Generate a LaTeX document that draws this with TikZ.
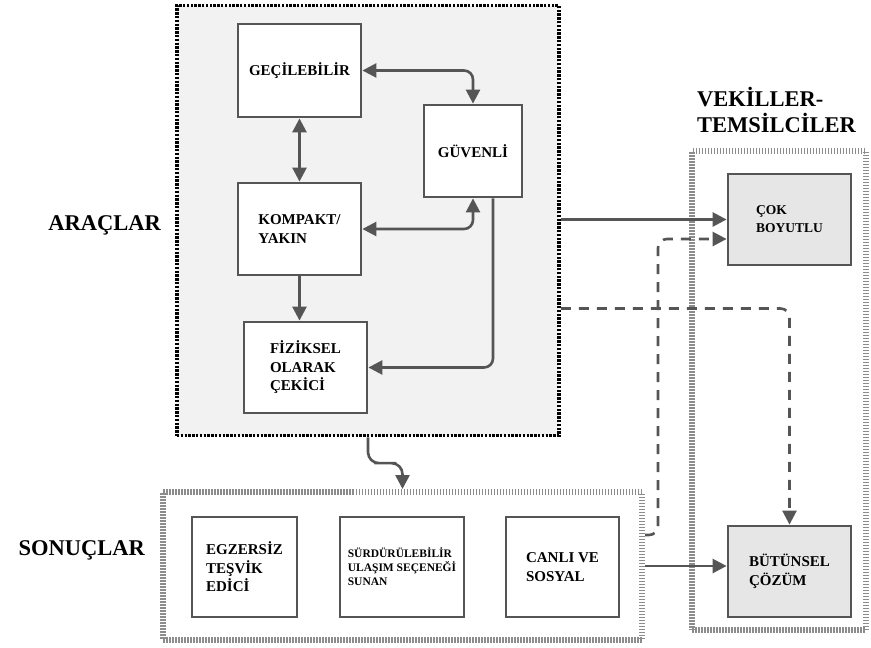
\documentclass[tikz,border=0pt]{standalone}
\usepackage{fontspec}
\setmainfont{Liberation Serif}
\usepackage{tikz}
\usepackage{xcolor}
\usetikzlibrary{arrows.meta, positioning, calc}

\definecolor{linegray}{HTML}{555555}
\definecolor{panelgray}{HTML}{F2F2F2}
\definecolor{proxygray}{HTML}{E6E6E6}
\definecolor{hashgray}{HTML}{8C8C8C}

\begin{document}
\begin{tikzpicture}[
    x=1pt, y=-1pt,
    >={Triangle[length=14pt,width=14pt]},
    arr/.style={->, draw=linegray, line width=2.6pt, rounded corners=9pt},
    darr/.style={arr, dash pattern=on 10pt off 8pt},
    item/.style={draw=linegray, line width=2.8pt, fill=white, rectangle, align=left,
        font=\bfseries\fontsize{15}{18.5}\selectfont, inner sep=2pt},
    proxy/.style={item, fill=proxygray},
    dotbox/.style={draw=black, line width=3.6pt, dash pattern=on 2.4pt off 1.4pt,
        fill=panelgray, rectangle, inner sep=0pt},
    hashbox/.style={draw=hashgray, line width=6pt, dash pattern=on 1.5pt off 1.5pt,
        fill=white, rectangle, inner sep=0pt},
    title/.style={font=\bfseries\fontsize{22.5}{26}\selectfont, align=left, inner sep=0pt}
]
\useasboundingbox (0,0) rectangle (871,648);

% Groups
\node[dotbox, minimum width=382pt, minimum height=430pt] (araclarbox) at (368,220.5) {};
\node[hashbox, minimum width=174pt, minimum height=479pt] (vekillerbox) at (779,390.5) {};
\node[hashbox, minimum width=479pt, minimum height=148pt] (sonuclarbox) at (402.5,566) {};

% Titles
\node[title, anchor=east] (araclar) at (161,225) {ARAÇLAR};
\node[title, anchor=east] (sonuclar) at (145,550) {SONUÇLAR};
\node[title, anchor=west] (vekiller) at (697,110) {VEKİLLER-\\TEMSİLCİLER};

% Tools
\node[item, minimum width=123pt, minimum height=93pt] (gecilebilir) at (299.5,70.5) {GEÇİLEBİLİR};
\node[item, minimum width=98pt, minimum height=92pt] (guvenli) at (473,151) {GÜVENLİ};
\node[item, minimum width=123pt, minimum height=92pt] (kompakt) at (299.5,229) {KOMPAKT/\\YAKIN};
\node[item, minimum width=123pt, minimum height=91pt] (fiziksel) at (305.5,367.5) {FİZİKSEL\\OLARAK\\ÇEKİCİ};

% Outcomes
\node[item, minimum width=105pt, minimum height=100pt] (egzersiz) at (244.5,567) {EGZERSİZ\\TEŞVİK\\EDİCİ};
\node[item, minimum width=124pt, minimum height=100pt,
      font=\bfseries\fontsize{11.5}{14}\selectfont] (surdurulebilir) at (402,567)
      {SÜRDÜRÜLEBİLİR\\ULAŞIM SEÇENEĞİ\\SUNAN};
\node[item, minimum width=113pt, minimum height=100pt] (canli) at (562.5,567) {CANLI VE\\SOSYAL};

% Proxies
\node[proxy, minimum width=123pt, minimum height=91pt,
      font=\bfseries\fontsize{13.5}{18}\selectfont] (cok) at (789.5,219.5) {ÇOK\\BOYUTLU};
\node[proxy, minimum width=123pt, minimum height=91pt] (butunsel) at (789.5,571.5) {BÜTÜNSEL\\ÇÖZÜM};

% Links inside the tools group
\draw[arr, <->] (gecilebilir.east) -| (guvenli.north);
\draw[arr, <->] (gecilebilir.south) -- (kompakt.north);
\draw[arr, <->] (kompakt.east) -| (guvenli.south);
\draw[arr] (kompakt.south) -- (kompakt.south |- fiziksel.north);
\draw[arr] ([xshift=20pt]guvenli.south) |- (fiziksel.east);

% Links between groups
\draw[arr, rounded corners=11pt] (araclarbox.south) |- ($(araclarbox.south)!0.5!(sonuclarbox.north)$) -| (sonuclarbox.north);
\draw[arr] (cok.west -| araclarbox.east) -- (cok.west);
\draw[darr] ([yshift=-88pt]araclarbox.east) -| (butunsel.north);
\draw[darr] ([yshift=31pt]sonuclarbox.east) -- ++(13,0) |- ([yshift=-19.5pt]cok.west);
\draw[arr] (sonuclarbox.east) -- (sonuclarbox.east -| butunsel.west);

\end{tikzpicture}
\end{document}
